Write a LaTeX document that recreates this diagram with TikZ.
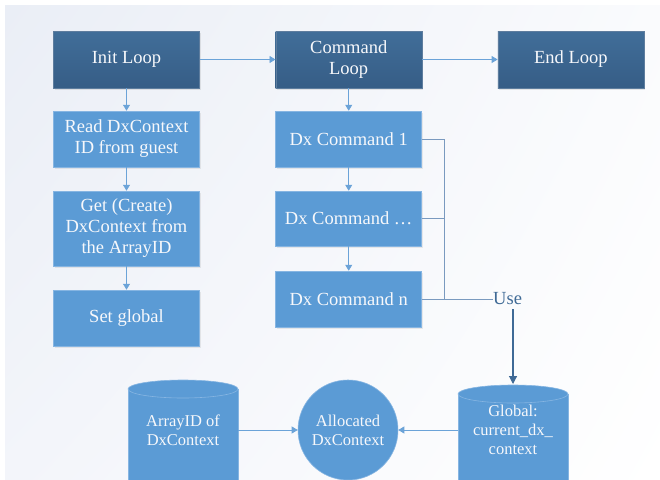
\documentclass[tikz,border=0pt]{standalone}
\usepackage{fontspec}
\setmainfont{Liberation Serif}
\usetikzlibrary{arrows.meta,shadows,shadings,calc}
\definecolor{bgA}{HTML}{EAEEF6}
\definecolor{bgB}{HTML}{FAFBFD}
\definecolor{bgC}{HTML}{F3F5FA}
\definecolor{darkA}{HTML}{416E99}
\definecolor{darkB}{HTML}{365D86}
\definecolor{lightbox}{HTML}{5B9BD5}
\definecolor{lightedge}{HTML}{86B5E2}
\definecolor{arrowc}{HTML}{6BA3D8}
\definecolor{linkc}{HTML}{7A9ABF}
\definecolor{usec}{HTML}{3F6A96}
\definecolor{txt}{HTML}{F7F8FB}
\tikzset{
  boxfont/.style={font=\fontsize{18.5}{21}\selectfont},
  darkbox/.style={rectangle, boxfont, text=txt, align=center, top color=darkA, bottom color=darkB,
     draw=darkB!80!white, line width=0.4pt, minimum width=146pt, minimum height=57pt, inner sep=0pt,
     drop shadow={opacity=0.18, shadow xshift=1pt, shadow yshift=-1.5pt}},
  lightbox/.style={rectangle, boxfont, text=txt, align=center, fill=lightbox, draw=lightedge,
     line width=0.5pt, minimum width=146pt, inner sep=0pt,
     drop shadow={opacity=0.15, shadow xshift=1pt, shadow yshift=-1.5pt}},
  flow/.style={draw=arrowc, line width=0.8pt, -{Triangle[width=7pt,length=6pt]}},
  link/.style={draw=linkc, line width=0.8pt},
  usearrow/.style={draw=usec, line width=1.1pt, -{Triangle[width=8pt,length=8pt]}},
  dbfont/.style={font=\fontsize{16.5}{19}\selectfont, text=txt, align=center},
  cylfill/.style={fill=lightbox},
  cylrim/.style={draw=lightedge, line width=0.6pt},
}
\begin{document}
\begin{tikzpicture}[x=1pt,y=-1pt]
\useasboundingbox (0,0) rectangle (660,479);
\fill[white] (0,0) rectangle (660,479);
\shade[upper left=bgA, upper right=bgB, lower left=bgC, lower right=white] (5,5) rectangle (660,479);

% top row
\node[darkbox] (init) at (126.5,59.5) {Init Loop};
\node[darkbox] (cmd) at (348.7,59.5) {Command\\Loop};
\node[darkbox] (endl) at (570.8,59.5) {End Loop};

% left column
\node[lightbox, minimum height=56pt] (read) at (126.5,139) {Read DxContext\\ID from guest};
\node[lightbox, minimum height=75pt] (get) at (126.5,228.5) {Get (Create)\\DxContext from\\the ArrayID};
\node[lightbox, minimum height=56pt] (setg) at (126.5,318) {Set global};

% middle column
\node[lightbox, minimum height=56pt] (c1) at (348.7,139) {Dx Command 1};
\node[lightbox, minimum height=55pt] (cd) at (348.7,218.5) {Dx Command \dots};
\node[lightbox, minimum height=56pt] (cn) at (348.7,299) {Dx Command n};

% arrows
\draw[flow] (init) -- (cmd);
\draw[flow] (cmd) -- (endl);
\draw[flow] (init) -- (read);
\draw[flow] (read) -- (get);
\draw[flow] (get) -- (setg);
\draw[flow] (cmd) -- (c1);
\draw[flow] (c1) -- (cd);
\draw[flow] (cd) -- (cn);

% Use label and links
\node[font=\fontsize{18.5}{21}\selectfont, text=usec, inner sep=0pt, anchor=west] (use) at (493,299) {Use};
\coordinate (j) at (444,299);
\draw[link] (c1.east) -| (j);
\draw[link] (cd.east) -| (j);
\draw[link] (cn.east) -- (use.west);

% cylinders
\fill[cylfill] (128,389) -- (128,495) -- (238,495) -- (238,389) arc[start angle=0, end angle=-180, x radius=55, y radius=9] -- cycle;
\draw[cylrim] (183,389) ellipse[x radius=55, y radius=9];
\draw[cylrim] (128,389) -- (128,495) (238,389) -- (238,495);
\node[dbfont, minimum width=110pt, minimum height=60pt, inner sep=0pt] (arr) at (183,430) {ArrayID of\\DxContext};

\fill[cylfill] (458,394) -- (458,495) -- (568,495) -- (568,394) arc[start angle=0, end angle=-180, x radius=55, y radius=9] -- cycle;
\draw[cylrim] (513,394) ellipse[x radius=55, y radius=9];
\draw[cylrim] (458,394) -- (458,495) (568,394) -- (568,495);
\node[dbfont, minimum width=110pt, minimum height=60pt, inner sep=0pt] (glob) at (513,430) {Global:\\current\_dx\_\\context};
\coordinate (globtop) at (513,384);

% allocated circle
\node[circle, dbfont, fill=lightbox, draw=lightedge, line width=0.6pt, minimum size=100pt, inner sep=0pt] (alloc) at (348,430) {Allocated\\DxContext};

\draw[flow] (arr.east) -- (alloc);
\draw[flow] (glob.west) -- (alloc);
\draw[usearrow] ($(use.south -| globtop)+(0,4)$) -- (globtop);
\end{tikzpicture}
\end{document}
